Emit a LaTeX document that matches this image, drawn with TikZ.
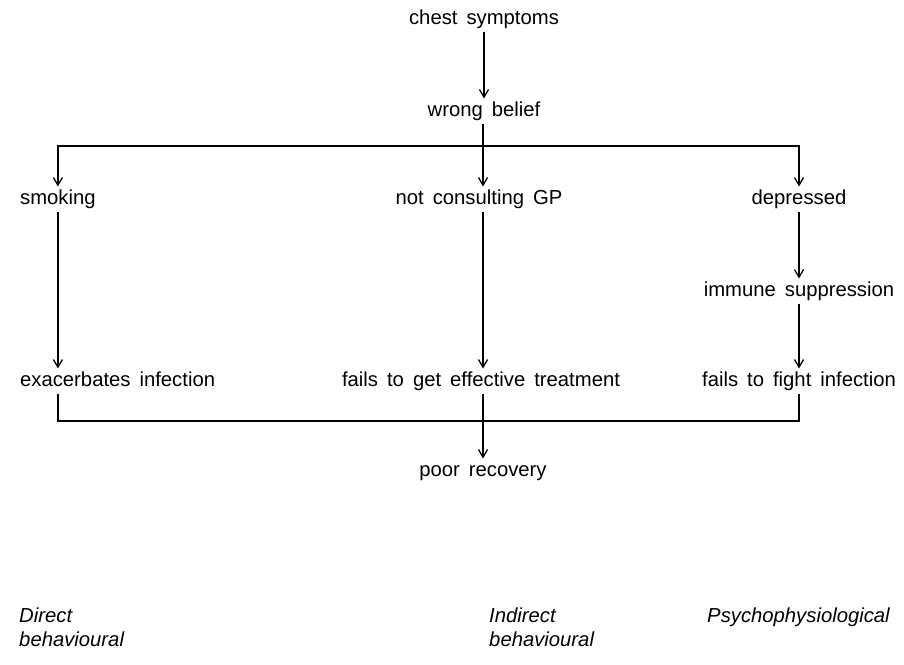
\documentclass[tikz,border=0pt]{standalone}
\usepackage{fontspec}
\setmainfont[WordSpace=1.6]{Liberation Sans}
\usetikzlibrary{arrows.meta, positioning}
\tikzset{
  stepnode/.style={font=\fontsize{17.3}{20}\selectfont, inner sep=2.5pt,
      text height=12.5pt, text depth=3.5pt},
  routelbl/.style={font=\fontsize{17.3}{20.4}\selectfont\itshape, inner sep=0pt,
      align=left, anchor=north west},
  myarrow/.style={-{Straight Barb[length=2.3mm, width=2.7mm]}, line width=1.1pt},
  myline/.style={line width=1.1pt},
}

\begin{document}
\begin{tikzpicture}[x=0.03cm, y=-0.03cm]
  \useasboundingbox (0,0) rectangle (904,664);

  % === top: symptoms and belief ===
  \node[stepnode] (chest) at (484,19) {chest symptoms};
  \node[stepnode] (belief) at (484,111) {wrong belief};
  \draw[myarrow] (chest) -- (belief);
  \coordinate (fork) at (483,146);

  % === second row ===
  \node[stepnode, anchor=west] (smoking) at (17,199) {smoking};
  \node[stepnode] (notgp) at (479,199) {not consulting GP};
  \node[stepnode] (depressed) at (799,199) {depressed};
  \node[stepnode] (immune) at (799,291) {immune suppression};

  \draw[myline] (belief.south -| fork) -- (fork);
  \draw[myarrow] (fork) -- (fork |- notgp.north);
  \draw[myarrow] (fork) -| (smoking.north);
  \draw[myarrow] (fork) -| (depressed.north);

  % === third row ===
  \node[stepnode, anchor=west] (exacerb) at (17,381) {exacerbates infection};
  \node[stepnode] (treatment) at (481,381) {fails to get effective treatment};
  \node[stepnode] (fightinf) at (799,381) {fails to fight infection};

  \draw[myarrow] (smoking.south) -- (smoking.south |- exacerb.north);
  \draw[myarrow] (fork |- notgp.south) -- (fork |- treatment.north);
  \draw[myarrow] (depressed) -- (immune);
  \draw[myarrow] (immune) -- (fightinf);

  % === outcome ===
  \node[stepnode] (recovery) at (483,471) {poor recovery};
  \coordinate (join) at (483,421);
  \draw[myline] (smoking.south |- exacerb.south) |- (join) -| (fightinf.south);
  \draw[myarrow] (join |- treatment.south) -- (join |- recovery.north);

  % === pathway labels ===
  \node[routelbl] (direct) at (19,608) {Direct\\behavioural};
  \node[routelbl] (indirect) at (489,608) {Indirect\\behavioural};
  \node[routelbl] (psycho) at (707,608) {Psychophysiological};
\end{tikzpicture}
\end{document}
